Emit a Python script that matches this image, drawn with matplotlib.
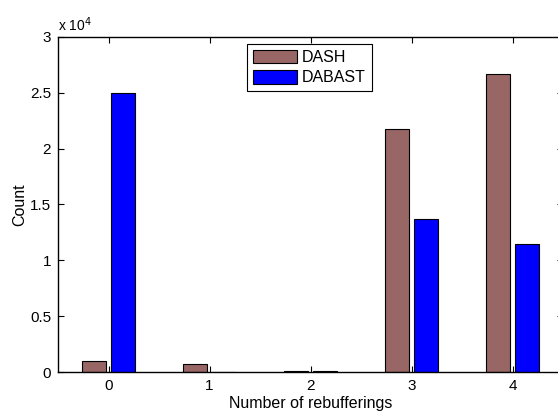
import matplotlib
matplotlib.use("Agg")
import matplotlib.pyplot as plt
import numpy as np

plt.rcParams['font.family'] = ['Liberation Sans', 'DejaVu Sans']

categories = [0, 1, 2, 3, 4]
dash = [1000, 750, 80, 21750, 26650]
dabast = [25000, 40, 120, 13680, 11430]
yticks = [0, 5000, 10000, 15000, 20000, 25000, 30000]
ytick_labels = ['0', '0.5', '1', '1.5', '2', '2.5', '3']

fig = plt.figure(figsize=(5.58, 4.11), dpi=100)
ax = fig.add_axes([58/558, 39/411, 505/558, 335/411])

x = np.array(categories)
w = 0.235
ax.bar(x - 0.14, dash, w, color='#996666', edgecolor='black', linewidth=0.8, label='DASH')
ax.bar(x + 0.14, dabast, w, color='#0000ff', edgecolor='black', linewidth=0.8, label='DABAST')

ax.set_xlim(-0.5, 4.5)
ax.set_ylim(0, 30000)
ax.set_xticks(categories)
ax.set_yticks(yticks)
ax.set_yticklabels(ytick_labels)
ax.tick_params(direction='in', top=True, right=True, labelsize=11, length=4, width=0.8, pad=5)
for s in ax.spines.values():
    s.set_linewidth(1.0)

ax.set_xlabel('Number of rebufferings', fontsize=11.5, labelpad=2)
ax.set_ylabel('Count', fontsize=11.5, labelpad=2)
ax.text(0.0, 1.01, r'x 10$^{4}$', transform=ax.transAxes, fontsize=10, ha='left', va='bottom')

leg = ax.legend(loc='upper left', bbox_to_anchor=((247-58)/505, (372-44)/335), fontsize=11.5,
                frameon=True, fancybox=False, edgecolor='black', framealpha=1,
                handlelength=2.8, handleheight=0.9, borderpad=0.35, labelspacing=0.35,
                handletextpad=0.3, borderaxespad=0)
leg.get_frame().set_linewidth(0.8)

fig.savefig('out.png', dpi=100)
